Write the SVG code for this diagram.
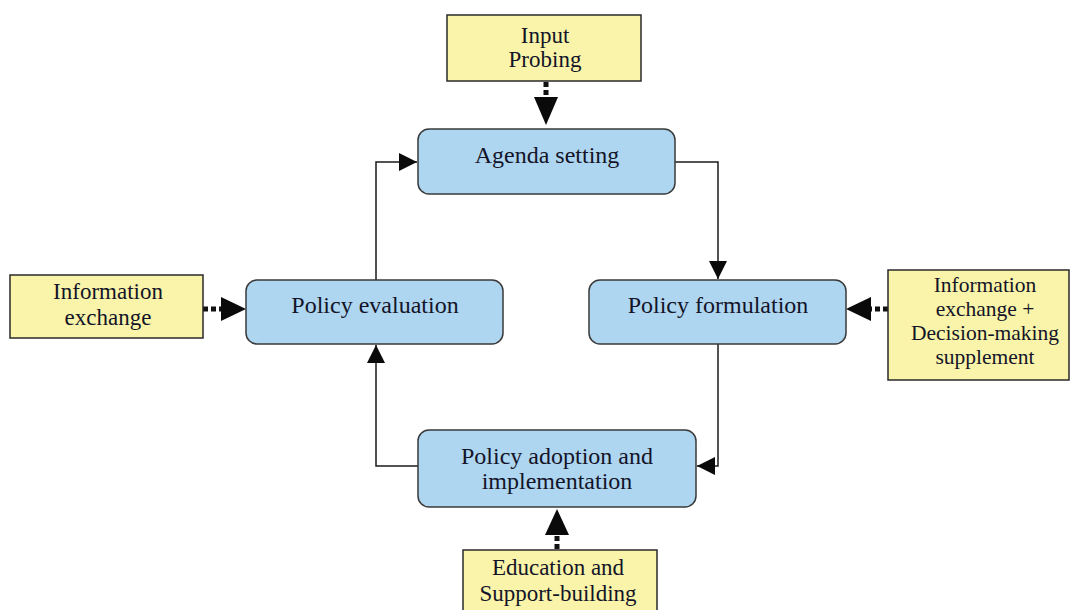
<svg xmlns="http://www.w3.org/2000/svg" width="1071" height="610" viewBox="0 0 1071 610">
  <style>
    .stage { fill: #aed6f1; stroke: #3a3a3a; stroke-width: 1.5; }
    .input { fill: #f9f4a9; stroke: #2a2a2a; stroke-width: 1.5; }
    .label { font-family: "Liberation Serif", "Times New Roman", serif; font-size: 24px; fill: #141428; text-anchor: middle; }
    .note { font-size: 23px; }
    .small { font-size: 21.5px; }
    .flow { fill: none; stroke: #1a1a1a; stroke-width: 1.5; }
    .dot { fill: none; stroke: #111; stroke-width: 5; stroke-dasharray: 5 3; }
    .head { fill: #0a0a0a; }
  </style>
  <defs>
    <marker id="arrow" viewBox="0 0 18 18" refX="18" refY="9" markerWidth="18" markerHeight="18" markerUnits="userSpaceOnUse" orient="auto">
      <path d="M0,0 L18,9 L0,18 Z" fill="#0a0a0a"/>
    </marker>
  </defs>
  <rect width="1071" height="610" fill="#ffffff"/>

  <g id="connectors">
    <!-- cycle between stages -->
    <polyline class="flow" points="675,162 718,162 718,279" marker-end="url(#arrow)"/>
    <polyline class="flow" points="718,344 718,466 697,466" marker-end="url(#arrow)"/>
    <polyline class="flow" points="418,466 376,466 376,345" marker-end="url(#arrow)"/>
    <polyline class="flow" points="376,280 376,162 417,162" marker-end="url(#arrow)"/>
    <!-- dotted inputs -->
    <line class="dot" x1="546" y1="82" x2="546" y2="97"/>
    <path class="head" d="M534,97 L558,97 L546,125 Z"/>
    <line class="dot" x1="203" y1="309" x2="222" y2="309"/>
    <path class="head" d="M221,297 L221,321 L246,309 Z"/>
    <line class="dot" x1="888" y1="309" x2="870" y2="309"/>
    <path class="head" d="M871,297 L871,321 L846,309 Z"/>
    <line class="dot" x1="557" y1="549" x2="557" y2="533"/>
    <path class="head" d="M545,535 L569,535 L557,509 Z"/>
  </g>

  <g id="input-probing">
    <rect class="input" x="447" y="15" width="194" height="66"/>
    <text class="label note" x="545" y="43">Input</text>
    <text class="label note" x="545" y="67">Probing</text>
  </g>

  <g id="agenda-setting">
    <rect class="stage" x="418" y="129" width="257" height="65" rx="11"/>
    <text class="label" x="547" y="163">Agenda setting</text>
  </g>

  <g id="policy-evaluation">
    <rect class="stage" x="246" y="280" width="257" height="64" rx="11"/>
    <text class="label" x="375" y="313">Policy evaluation</text>
  </g>

  <g id="policy-formulation">
    <rect class="stage" x="589" y="280" width="257" height="64" rx="11"/>
    <text class="label" x="718" y="313">Policy formulation</text>
  </g>

  <g id="policy-adoption">
    <rect class="stage" x="418" y="430" width="278" height="77" rx="11"/>
    <text class="label" x="557" y="464">Policy adoption and</text>
    <text class="label" x="557" y="489">implementation</text>
  </g>

  <g id="information-exchange">
    <rect class="input" x="10" y="275" width="193" height="63"/>
    <text class="label note" x="108" y="299">Information</text>
    <text class="label note" x="108" y="325">exchange</text>
  </g>

  <g id="decision-support">
    <rect class="input" x="888" y="270" width="181" height="110"/>
    <text class="label small" x="985" y="292">Information</text>
    <text class="label small" x="985" y="316">exchange +</text>
    <text class="label small" x="985" y="340">Decision-making</text>
    <text class="label small" x="985" y="364">supplement</text>
  </g>

  <g id="education-support">
    <rect class="input" x="463" y="550" width="194" height="70"/>
    <text class="label note" x="558" y="575">Education and</text>
    <text class="label note" x="558" y="601">Support-building</text>
  </g>
</svg>
